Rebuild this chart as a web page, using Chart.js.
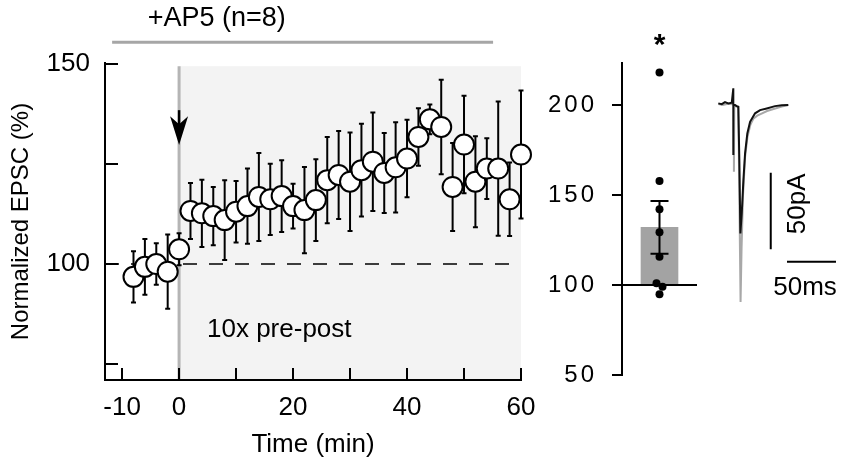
<!DOCTYPE html>
<html lang="en">
<head>
<meta charset="UTF-8">
<title>EPSC time course with AP5</title>
<script src="https://cdn.jsdelivr.net/npm/chart.js"></script>
<style>
  body { margin: 0; background: #fff; }
  #wrap { position: relative; width: 850px; height: 465px; overflow: hidden; }
  canvas { position: absolute; top: 0; }
</style>
</head>
<body>
<div id="wrap">
  <canvas id="timeCourse" width="540" height="465" style="left:0"></canvas>
  <canvas id="summary" width="170" height="465" style="left:540px"></canvas>
  <canvas id="traces" width="140" height="465" style="left:710px"></canvas>
</div>
<script>
// ---- time course (min) and normalized EPSC (%) ----
const times = [-8, -6, -4, -2, 0, 2, 4, 6, 8, 10, 12, 14, 16, 18, 20, 22, 24,
  26, 28, 30, 32, 34, 36, 38, 40, 42, 44, 46, 48, 50, 52, 54, 56, 58, 60];
const epscMean = [96.8, 99.3, 100, 98.1, 103.7, 113.3, 112.7, 112, 111, 113.1, 114.5, 116.8, 116.2, 117, 114.5, 113.5, 116,
  121, 122.3, 120.6, 123.5, 125.6, 122.8, 124.2, 126.4, 131.8, 136.2, 134.3, 119.3, 129.9, 120.6, 123.9, 123.9, 116.2, 127.4];
const epscSem = [6.4, 7, 5.2, 9.3, 4, 7, 8.4, 7.3, 10, 7.7, 9.4, 11, 8.9, 9, 5.6, 10.8, 10.2,
  10.8, 11, 12.3, 11.6, 12.3, 10, 11.3, 9.7, 7.2, 3.7, 11.8, 11, 12.2, 11.4, 7.6, 16.8, 9.2, 16];
const xTicks = [-10, 0, 10, 20, 30, 40, 50, 60];
const xLabelled = [-10, 0, 20, 40, 60];
const yTicks = [75, 100, 125, 150];
const yLabelled = [100, 150];

// ---- summary (% of baseline, individual cells) ----
const cellValues = [218, 157.8, 142, 129.3, 115.7, 101, 99, 94.8];
const cellJitter = [0, 0, 0, 0, 0, -0.08, 0.08, 0];
const summaryMean = 132;
const summarySem = 14.6;
const summaryTicks = [50, 100, 150, 200];

// ---- example traces (ms, pA) ----
const grayTime = [0.3, 5, 10, 14.5, 16.2, 16.2, 16.6, 19, 20.7, 23, 24, 25.5, 27.6, 30, 33, 36, 40, 45, 50, 55, 60, 65, 71.7];
const grayAmp = [-0.5, -1, -0.3, -0.5, -1, -44.6, -1.5, -2, -2.5, -129.5, -95, -60, -35, -22, -14, -10, -8, -6.5, -5, -4, -3, -2, -1.1];
const blackTime = [0.3, 3.8, 7.1, 10.5, 14, 15.6, 15.6, 15.6, 17.3, 19.1, 20.7, 21.8, 22.8, 24.2, 25.9, 27.6, 29.9, 32.7, 37.8, 42.9, 49.7, 58.2, 65, 71.7];
const blackAmp = [0, -0.5, 0.8, 0, 0.4, 9.8, -33.7, -1, -1.1, -1.8, -2.2, -39, -84.8, -71.7, -50, -32.6, -19.6, -12, -6.5, -4.4, -3.3, -1.8, -1.3, -1.1];

const FONT = "'Liberation Sans', Arial, Helvetica, sans-serif";

// ---------------- panel 1: time course ----------------
const timeCourseDecor = {
  id: 'timeCourseDecor',
  beforeDatasetsDraw(chart) {
    const { ctx, scales: { x, y } } = chart;
    ctx.save();
    // shaded period after pairing
    const sx0 = x.getPixelForValue(0), sx1 = x.getPixelForValue(60);
    const sy0 = y.getPixelForValue(149.5);
    ctx.fillStyle = '#f3f3f3';
    ctx.fillRect(sx0, sy0, sx1 - sx0, y.bottom - sy0);
    // pairing marker line
    ctx.strokeStyle = '#b5b5b5';
    ctx.lineWidth = 3;
    ctx.beginPath();
    ctx.moveTo(sx0, sy0);
    ctx.lineTo(sx0, y.bottom);
    ctx.stroke();
    // error bars
    ctx.strokeStyle = '#000';
    ctx.lineWidth = 2;
    times.forEach((t, i) => {
      const px = x.getPixelForValue(t);
      const top = y.getPixelForValue(epscMean[i] + epscSem[i]);
      const bot = y.getPixelForValue(epscMean[i] - epscSem[i]);
      ctx.beginPath();
      ctx.moveTo(px, top); ctx.lineTo(px, bot);
      ctx.moveTo(px - 2.5, top); ctx.lineTo(px + 2.5, top);
      ctx.moveTo(px - 2.5, bot); ctx.lineTo(px + 2.5, bot);
      ctx.stroke();
    });
    ctx.restore();
  },
  afterDatasetsDraw(chart) {
    const { ctx, scales: { x, y } } = chart;
    ctx.save();
    // arrow at pairing
    const ax = x.getPixelForValue(0);
    const aTop = y.getPixelForValue(138.5);
    const aTip = y.getPixelForValue(129.8);
    ctx.strokeStyle = '#000';
    ctx.fillStyle = '#000';
    ctx.lineWidth = 2.5;
    ctx.beginPath();
    ctx.moveTo(ax, aTop); ctx.lineTo(ax, aTip - 12);
    ctx.stroke();
    ctx.beginPath();
    ctx.moveTo(ax, aTip);
    ctx.lineTo(ax - 9, aTop + 6);
    ctx.lineTo(ax, aTop + 14);
    ctx.lineTo(ax + 9, aTop + 6);
    ctx.closePath();
    ctx.fill();
    // labels
    ctx.font = '26px ' + FONT;
    ctx.textBaseline = 'middle';
    ctx.textAlign = 'left';
    ctx.fillText('10x pre-post', x.getPixelForValue(4.9), y.getPixelForValue(83.5));
    ctx.font = '27px ' + FONT;
    ctx.textAlign = 'center';
    ctx.fillText('+AP5 (n=8)', x.getPixelForValue(6.6), y.getPixelForValue(161.3));
    // drug application bar
    ctx.strokeStyle = '#a6a6a6';
    ctx.lineWidth = 3;
    ctx.beginPath();
    ctx.moveTo(x.getPixelForValue(-11.75), y.getPixelForValue(155.5));
    ctx.lineTo(x.getPixelForValue(55.1), y.getPixelForValue(155.5));
    ctx.stroke();
    ctx.restore();
  }
};

new Chart(document.getElementById('timeCourse'), {
  type: 'scatter',
  data: {
    datasets: [
      {
        type: 'line',
        data: [{ x: -13, y: 100 }, { x: 60, y: 100 }],
        borderColor: '#000',
        borderWidth: 1.5,
        borderDash: [14, 12],
        pointRadius: 0,
        order: 2
      },
      {
        data: times.map((t, i) => ({ x: t, y: epscMean[i] })),
        pointRadius: 10,
        pointHoverRadius: 10,
        pointBackgroundColor: '#fff',
        pointBorderColor: '#000',
        pointBorderWidth: 2,
        clip: false,
        order: 1
      }
    ]
  },
  options: {
    responsive: false,
    animation: false,
    layout: { autoPadding: false, padding: { top: 63, right: 19, left: 0, bottom: 0 } },
    plugins: { legend: { display: false }, tooltip: { enabled: false } },
    scales: {
      x: {
        type: 'linear',
        min: -13,
        max: 60,
        border: { color: '#000', width: 2, z: 1 },
        grid: { drawOnChartArea: false, tickLength: -12, color: '#000', lineWidth: 2, z: 1 },
        afterBuildTicks: s => { s.ticks = xTicks.map(v => ({ value: v })); },
        afterFit: s => { s.height = 85; s.paddingLeft = 0; s.paddingRight = 0; },
        ticks: {
          color: '#000',
          font: { family: FONT, size: 26 },
          padding: 24,
          maxRotation: 0,
          callback: v => xLabelled.includes(v) ? String(v) : ''
        },
        title: {
          display: true,
          text: 'Time (min)',
          color: '#000',
          font: { family: FONT, size: 26 },
          padding: { top: 0, bottom: 5 }
        }
      },
      y: {
        min: 71,
        max: 150.3,
        border: { color: '#000', width: 2, z: 1 },
        grid: { drawOnChartArea: false, tickLength: -13, color: '#000', lineWidth: 2, z: 1 },
        afterBuildTicks: s => { s.ticks = yTicks.map(v => ({ value: v })); },
        afterFit: s => { s.width = 105; s.paddingTop = 0; s.paddingBottom = 0; },
        ticks: {
          color: '#000',
          font: { family: FONT, size: 26 },
          padding: 28,
          callback: v => yLabelled.includes(v) ? String(v) : ''
        },
        title: {
          display: true,
          text: 'Normalized EPSC (%)',
          color: '#000',
          font: { family: FONT, size: 24 },
          padding: { top: 7, bottom: 0 }
        }
      }
    }
  },
  plugins: [timeCourseDecor]
});

// ---------------- panel 2: summary bar ----------------
const summaryDecor = {
  id: 'summaryDecor',
  beforeDraw(chart) {
    chart.ctx.letterSpacing = '3px';
  },
  afterDatasetDraw(chart, args) {
    if (args.index !== 0) return;
    const { ctx, scales: { x, y } } = chart;
    const px = x.getPixelForValue(0);
    const top = y.getPixelForValue(summaryMean + summarySem);
    const bot = y.getPixelForValue(summaryMean - summarySem);
    ctx.save();
    ctx.strokeStyle = '#000';
    ctx.lineWidth = 2;
    ctx.beginPath();
    ctx.moveTo(px, top); ctx.lineTo(px, bot);
    ctx.moveTo(px - 9, top); ctx.lineTo(px + 9, top);
    ctx.moveTo(px - 9, bot); ctx.lineTo(px + 9, bot);
    ctx.stroke();
    ctx.restore();
  },
  afterDatasetsDraw(chart) {
    const { ctx, scales: { x, y } } = chart;
    ctx.save();
    ctx.letterSpacing = '0px';
    ctx.fillStyle = '#000';
    ctx.font = 'bold 30px ' + FONT;
    ctx.textAlign = 'center';
    ctx.textBaseline = 'middle';
    ctx.fillText('*', x.getPixelForValue(0), y.getPixelForValue(233));
    ctx.restore();
  }
};

new Chart(document.getElementById('summary'), {
  type: 'bar',
  data: {
    datasets: [
      {
        type: 'bar',
        data: [{ x: 0, y: [100, summaryMean] }],
        backgroundColor: '#a3a3a3',
        barThickness: 37,
        order: 4
      },
      {
        type: 'line',
        data: [{ x: -1, y: 100 }, { x: 1, y: 100 }],
        borderColor: '#000',
        borderWidth: 2,
        pointRadius: 0,
        order: 3
      },
      {
        type: 'scatter',
        data: cellValues.map((v, i) => ({ x: cellJitter[i], y: v })),
        pointRadius: 4,
        pointBackgroundColor: '#000',
        pointBorderWidth: 0,
        clip: false,
        order: 1
      }
    ]
  },
  options: {
    responsive: false,
    animation: false,
    layout: { autoPadding: false, padding: { top: 63, right: 13, left: 0, bottom: 90 } },
    plugins: { legend: { display: false }, tooltip: { enabled: false } },
    scales: {
      x: { type: 'linear', min: -1, max: 1, display: false, offset: false },
      y: {
        min: 50,
        max: 223.3,
        border: { color: '#000', width: 2 },
        grid: { drawOnChartArea: false, tickLength: 10, color: '#000', lineWidth: 2 },
        afterBuildTicks: s => { s.ticks = summaryTicks.map(v => ({ value: v })); },
        afterFit: s => { s.width = 82; },
        ticks: {
          color: '#000',
          font: { family: FONT, size: 24 },
          padding: 15
        }
      }
    }
  },
  plugins: [summaryDecor]
});

// ---------------- panel 3: example traces ----------------
const traceDecor = {
  id: 'traceDecor',
  afterDatasetsDraw(chart) {
    const { ctx, scales: { x, y } } = chart;
    ctx.save();
    ctx.fillStyle = '#000';
    ctx.font = '26px ' + FONT;
    ctx.textAlign = 'center';
    ctx.textBaseline = 'middle';
    ctx.fillText('50ms', x.getPixelForValue(88.8), y.getPixelForValue(-120.3));
    ctx.translate(x.getPixelForValue(81.6), y.getPixelForValue(-65.5));
    ctx.rotate(-Math.PI / 2);
    ctx.fillText('50pA', 0, 0);
    ctx.restore();
  }
};

new Chart(document.getElementById('traces'), {
  type: 'scatter',
  data: {
    datasets: [
      {
        data: grayTime.map((t, i) => ({ x: t, y: grayAmp[i] })),
        showLine: true,
        borderColor: '#a8a8a8',
        borderWidth: 2,
        pointRadius: 0,
        order: 3
      },
      {
        data: blackTime.map((t, i) => ({ x: t, y: blackAmp[i] })),
        showLine: true,
        borderColor: '#111',
        borderWidth: 2,
        pointRadius: 0,
        order: 2
      },
      {
        data: [{ x: 53.8, y: -45.2 }, { x: 53.8, y: -95.2 }],
        showLine: true,
        borderColor: '#000',
        borderWidth: 2,
        pointRadius: 0,
        order: 1
      },
      {
        data: [{ x: 70.4, y: -103.3 }, { x: 120.4, y: -103.3 }],
        showLine: true,
        borderColor: '#000',
        borderWidth: 2,
        pointRadius: 0,
        order: 1
      }
    ]
  },
  options: {
    responsive: false,
    animation: false,
    layout: { autoPadding: false, padding: 0 },
    plugins: { legend: { display: false }, tooltip: { enabled: false } },
    scales: {
      x: { type: 'linear', min: -8.2, max: 134.7, display: false },
      y: { type: 'linear', min: -235.8, max: 67.4, display: false }
    }
  },
  plugins: [traceDecor]
});
</script>
</body>
</html>
